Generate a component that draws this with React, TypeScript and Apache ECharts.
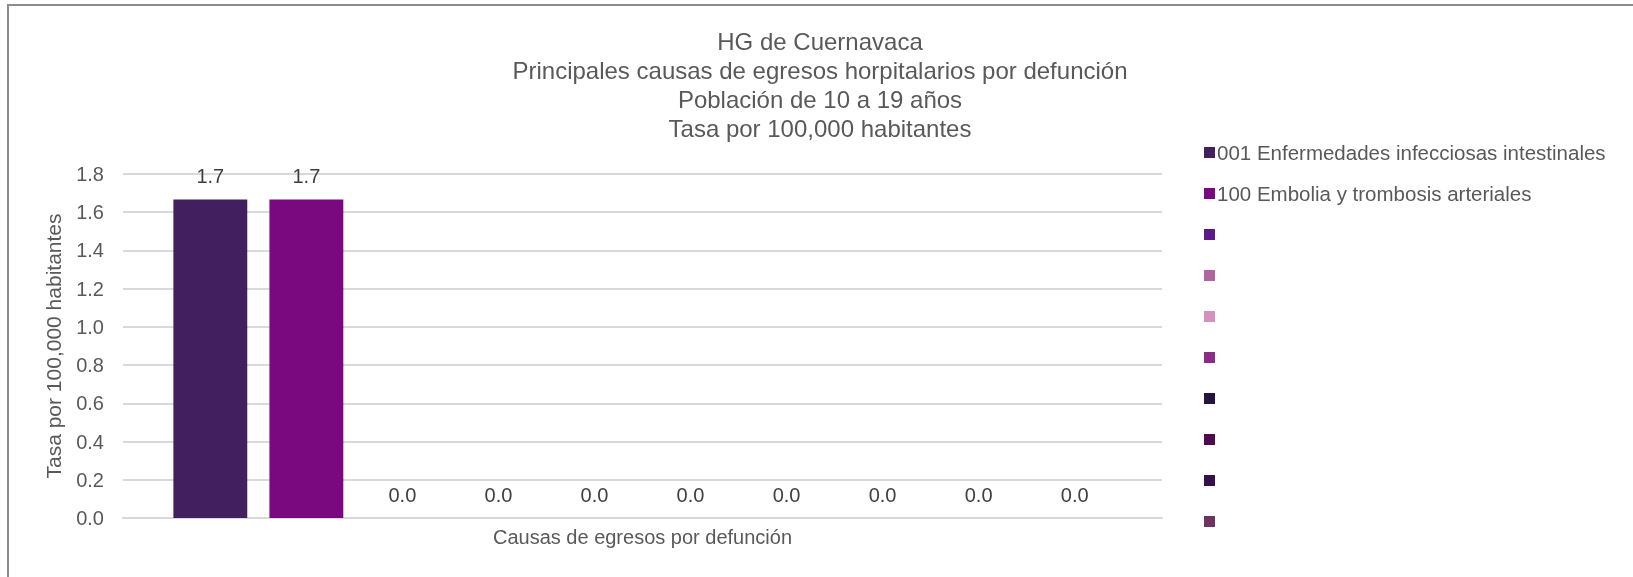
import React, { useEffect, useRef } from "react";
import * as echarts from "echarts";

const titleLines = [
  "HG de Cuernavaca",
  "Principales causas de egresos horpitalarios por defunción",
  "Población de 10 a 19 años",
  "Tasa por 100,000 habitantes",
];
const categories = [""];
const seriesNames = [
  "001 Enfermedades infecciosas intestinales",
  "100 Embolia y trombosis arteriales",
  "",
  "",
  "",
  "",
  "",
  "",
  "",
  "",
];
const seriesValues = [1.667, 1.667, 0, 0, 0, 0, 0, 0, 0, 0];
const seriesColors = [
  "#421F5E",
  "#7A087F",
  "#5B1A85",
  "#B1659F",
  "#D493BE",
  "#8A2D87",
  "#27143D",
  "#4D0A4F",
  "#36104B",
  "#6E3360",
];
const yTicks = { min: 0, max: 1.8, interval: 0.2 };
const yAxisName = "Tasa por 100,000 habitantes";
const xAxisName = "Causas de egresos por defunción";

const FONT = "'Liberation Sans', Arial, sans-serif";

export default function App() {
  const ref = useRef<HTMLDivElement>(null);
  useEffect(() => {
    if (!ref.current) return;
    const chart = echarts.init(ref.current, null, { renderer: "svg" });
    const ids = seriesNames.map((_, i) => `s${i}`);
    chart.setOption({
      animation: false,
      textStyle: { fontFamily: FONT },
      title: {
        text: titleLines.join("\n"),
        left: 815,
        top: 22,
        textAlign: "center",
        textStyle: {
          fontFamily: FONT,
          fontSize: 24,
          fontWeight: "normal",
          color: "#595959",
          lineHeight: 29,
        },
      },
      legend: {
        orient: "vertical",
        left: 1199,
        top: 137,
        icon: "rect",
        itemWidth: 11,
        itemHeight: 11,
        itemGap: 20,
        data: ids,
        formatter: (name: string) => seriesNames[ids.indexOf(name)] || " ",
        textStyle: {
          fontFamily: FONT,
          fontSize: 20.5,
          color: "#595959",
          lineHeight: 20,
          padding: [0, 0, 0, -3],
        },
      },
      grid: { left: 123, right: 471, top: 174, bottom: 59 },
      xAxis: {
        type: "category",
        data: categories,
        name: xAxisName,
        nameLocation: "middle",
        nameGap: 9,
        nameTextStyle: { fontFamily: FONT, fontSize: 20, color: "#595959" },
        axisLine: { lineStyle: { color: "#D9D9D9", width: 2 } },
        axisTick: { show: false },
        axisLabel: { show: false },
      },
      yAxis: {
        type: "value",
        min: yTicks.min,
        max: yTicks.max,
        interval: yTicks.interval,
        name: yAxisName,
        nameLocation: "middle",
        nameGap: 59,
        nameTextStyle: { fontFamily: FONT, fontSize: 21, color: "#595959" },
        axisLine: { show: false },
        axisTick: { show: false },
        axisLabel: {
          fontFamily: FONT,
          fontSize: 20,
          color: "#595959",
          margin: 19,
          formatter: (v: number) => v.toFixed(1),
        },
        splitLine: { lineStyle: { color: "#D9D9D9", width: 2 } },
      },
      series: seriesValues.map((v, i) => ({
        id: ids[i],
        name: ids[i],
        type: "bar",
        data: [v],
        barGap: "30%",
        barCategoryGap: "9.7%",
        itemStyle: { color: seriesColors[i] },
        label: {
          show: true,
          position: "top",
          distance: 13,
          fontFamily: FONT,
          fontSize: 20,
          color: "#404040",
          formatter: (p: any) => Number(p.value).toFixed(1),
        },
      })),
    });
    return () => chart.dispose();
  }, []);
  return (
    <>
      <div
        style={{
          position: "fixed",
          left: 7,
          top: 4,
          width: 1700,
          height: 700,
          borderLeft: "2px solid #8C8C8C",
          borderTop: "2px solid #8C8C8C",
          boxSizing: "border-box",
        }}
      />
      <div
        ref={ref}
        style={{ position: "fixed", left: 0, top: 0, width: 1633, height: 577 }}
      />
    </>
  );
}
